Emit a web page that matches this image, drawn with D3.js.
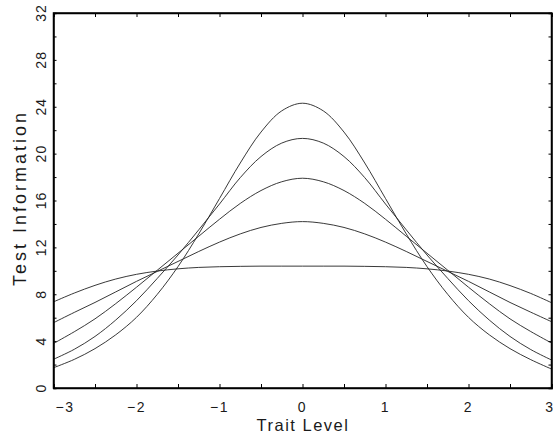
<!DOCTYPE html>
<html>
<head>
<meta charset="utf-8">
<script src="https://cdn.jsdelivr.net/npm/d3@7/dist/d3.min.js"></script>
<style>
html,body{margin:0;padding:0;background:#fff;overflow:hidden;}
svg{display:block;}
text{font-family:"Liberation Sans","DejaVu Sans",sans-serif;fill:#1a1a1a;}
</style>
</head>
<body>
<svg id="chart" width="553" height="435"></svg>
<script>
// ---- data ----
const theta = [-3,-2.75,-2.5,-2.25,-2,-1.75,-1.5,-1.25,-1,-0.75,-0.5,-0.25,0,0.25,0.5,0.75,1,1.25,1.5,1.75,2,2.25,2.5,2.75,3];
const seriesFlat = [7.35,8.1,8.76,9.3,9.7,9.98,10.17,10.29,10.35,10.38,10.4,10.4,10.4,10.4,10.4,10.38,10.35,10.29,10.17,9.98,9.7,9.3,8.74,8.07,7.28];
const series14 = [5.57,6.45,7.3,8.2,9.1,9.95,10.8,11.65,12.45,13.15,13.7,14.05,14.2,14.05,13.7,13.15,12.45,11.65,10.8,9.95,9.1,8.2,7.3,6.47,5.66];
const series18 = [3.8,4.8,5.9,7.2,8.6,10.05,11.5,12.95,14.4,15.75,16.85,17.6,17.9,17.6,16.85,15.75,14.4,12.95,11.5,10.05,8.6,7.2,5.9,4.82,3.84];
const series21 = [2.45,3.3,4.4,5.8,7.45,9.35,11.35,13.5,15.7,17.95,19.75,20.9,21.3,20.9,19.75,17.95,15.7,13.5,11.35,9.35,7.45,5.8,4.4,3.28,2.39];
const series24 = [1.73,2.44,3.36,4.54,6.03,7.99,10.36,13.15,16.17,19.2,21.84,23.65,24.3,23.65,21.84,19.2,16.17,13.15,10.36,7.99,6.03,4.54,3.36,2.42,1.62];
const xTickLabels = [-3,-2,-1,0,1,2,3];
const xMinorTicks = [-3,-2.5,-2,-1.5,-1,-0.5,0,0.5,1,1.5,2,2.5,3];
const yTickLabels = [0,4,8,12,16,20,24,28,32];
const yMinorTicks = [0,2,4,6,8,10,12,14,16,18,20,22,24,26,28,30,32];
const xTitle = "Trait Level";
const yTitle = "Test Information";

// ---- layout ----
const L = 53.5, R = 551.5, T = 13, B = 388;
const svg = d3.select("#chart");
const x = d3.scaleLinear().domain([-3,3]).range([L,R]);
const y = d3.scaleLinear().domain([0,32]).range([B,T]);

// curves
const allSeries = [seriesFlat, series14, series18, series21, series24];
const line = d3.line().x((d,i)=>x(theta[i])).y(d=>y(d)).curve(d3.curveCatmullRom.alpha(0.5));
svg.append("g").selectAll("path").data(allSeries).join("path")
  .attr("d", d=>line(d))
  .attr("fill","none").attr("stroke","#222").attr("stroke-width",0.9);

// axes (inward ticks, no labels)
const fmt = ()=> "";
svg.append("g").attr("transform",`translate(0,${B})`)
  .call(d3.axisBottom(x).tickValues(xMinorTicks).tickSize(-4).tickFormat(fmt));
svg.append("g").attr("transform",`translate(0,${T})`)
  .call(d3.axisTop(x).tickValues(xMinorTicks).tickSize(-4).tickFormat(fmt));
svg.append("g").attr("transform",`translate(${L},0)`)
  .call(d3.axisLeft(y).tickValues(yMinorTicks).tickSize(-3).tickFormat(fmt));
svg.append("g").attr("transform",`translate(${R},0)`)
  .call(d3.axisRight(y).tickValues(yMinorTicks).tickSize(-3).tickFormat(fmt));
svg.selectAll(".domain").attr("stroke","#000").attr("stroke-width",1.5);
svg.selectAll(".tick line").attr("stroke","#000").attr("stroke-width",1);

// frame
svg.append("rect").attr("x",L).attr("y",T).attr("width",R-L).attr("height",B-T)
  .attr("fill","none").attr("stroke","#000").attr("stroke-width",1.5);

// x tick labels
const nX = xTickLabels.length;
svg.append("g").selectAll("text").data(xTickLabels).join("text")
  .attr("x", (d,i)=> i===0 ? x(d)+2 : (i===nX-1 ? 553 : x(d)))
  .attr("y", 411.5)
  .attr("text-anchor", (d,i)=> i===0 ? "start" : (i===nX-1 ? "end" : "middle"))
  .style("font-size","14px").style("letter-spacing", (d,i)=> i===nX-1 ? "0px" : "1.5px")
  .text(d=> d<0 ? "\u2212"+Math.abs(d) : String(d));

// y tick labels (rotated)
svg.append("g").selectAll("text").data(yTickLabels).join("text")
  .attr("transform", d=>`translate(46,${y(d)}) rotate(-90)`)
  .attr("text-anchor","middle")
  .style("font-size","14px").style("letter-spacing","1px")
  .text(d=>String(d));

// titles
svg.append("text").attr("x", 303).attr("y", 430.5)
  .attr("text-anchor","middle").style("font-size","16.5px").style("letter-spacing","1.5px")
  .text(xTitle);
svg.append("text").attr("transform","translate(25.5,198) rotate(-90)")
  .attr("text-anchor","middle").style("font-size","18px").style("letter-spacing","3px")
  .text(yTitle);
</script>
</body>
</html>
